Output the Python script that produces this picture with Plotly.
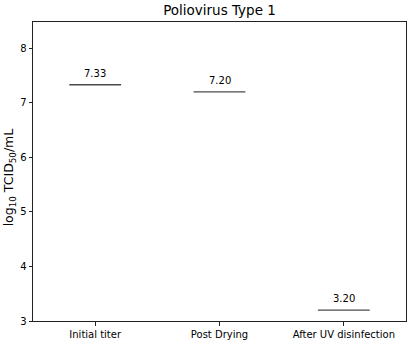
import plotly.graph_objects as go

# Titer measurements at each processing stage
stages = ["Initial titer", "Post Drying", "After UV disinfection"]
log_titers = [7.33, 7.20, 3.20]
y_ticks = [3, 4, 5, 6, 7, 8]

font = "DejaVu Sans, sans-serif"
positions = list(range(len(stages)))

fig = go.Figure()
# Each titer drawn as a short horizontal dash
fig.add_trace(go.Scatter(
    x=positions,
    y=log_titers,
    mode="markers",
    marker=dict(symbol="line-ew", size=37,
                line=dict(color="#4a4a4a", width=1.4)),
    showlegend=False,
    hoverinfo="skip",
))

# Value labels just above each dash
for x, v in zip(positions, log_titers):
    fig.add_annotation(x=x, y=v, text=f"{v:.2f}", showarrow=False,
                       yanchor="bottom", yshift=4,
                       font=dict(family=font, size=10, color="#000000"))

# Rotated y-axis label
fig.add_annotation(xref="paper", yref="paper", x=-0.062, y=0.48,
                   text="log<sub>10</sub> TCID<sub>50</sub>/mL",
                   textangle=-90, showarrow=False,
                   xanchor="center", yanchor="middle",
                   font=dict(family=font, size=12.5, color="#000000"))

axis_common = dict(
    showgrid=False, zeroline=False, showline=True, mirror=True,
    linecolor="#222222", linewidth=1, ticks="outside", ticklen=3.5,
    tickcolor="#222222", tickfont=dict(family=font, size=10, color="#000000"),
    automargin=False,
)

fig.update_layout(
    width=412, height=341,
    margin=dict(l=33, r=6, t=22, b=20),
    paper_bgcolor="white", plot_bgcolor="white",
    title=dict(text="Poliovirus Type 1", x=0.5, xref="paper", xanchor="center",
               y=1 - 10 / 341, yanchor="middle",
               font=dict(family=font, size=13.5, color="#000000")),
    xaxis=dict(range=[-0.5, 2.5], tickvals=positions, ticktext=stages,
               **axis_common),
    yaxis=dict(range=[3, 8.48], tickvals=y_ticks, **axis_common),
)

fig.write_html("out.html")
